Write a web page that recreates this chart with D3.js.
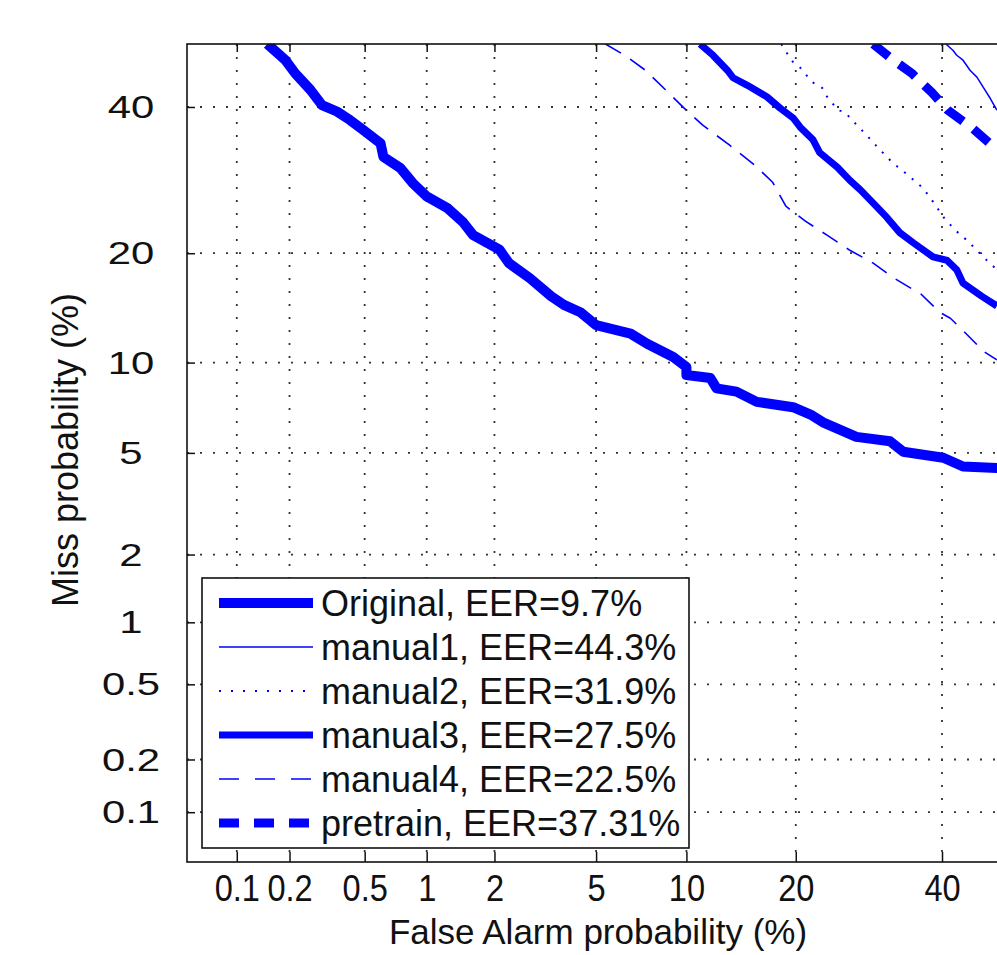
<!DOCTYPE html>
<html>
<head>
<meta charset="utf-8">
<script src="https://cdn.jsdelivr.net/npm/d3@7"></script>
<style>
  body { margin: 0; background: #fff; }
  svg text { font-family: "Liberation Sans", Arial, Helvetica, sans-serif; fill: #111; }
</style>
</head>
<body>
<svg id="chart" width="997" height="955"></svg>
<script>
// tick values (percent)
var faTicks = [0.1, 0.2, 0.5, 1, 2, 5, 10, 20, 40];
var missTicks = [0.1, 0.2, 0.5, 1, 2, 5, 10, 20, 40];

// DET curves (false alarm %, miss %)
var originalFA = [0.15, 0.177, 0.19, 0.215, 0.26, 0.30, 0.36, 0.42, 0.49, 0.60, 0.62, 0.75, 0.86, 1.0, 1.24, 1.46, 1.62, 2.1, 2.3, 2.8, 3.4, 3.8, 4.4, 5.0, 6.6, 7.5, 9.1, 10.0, 10.0, 11.8, 12.3, 14.0, 15.9, 19.7, 21.7, 23.2, 27.5, 32.2, 34.1, 40.2, 43.3, 48.7, 50];
var originalMiss = [50, 48.2, 47.4, 45.3, 42.7, 40.3, 39.3, 38.0, 36.5, 34.5, 32.5, 30.9, 28.8, 27.0, 25.5, 23.7, 22.1, 20.4, 18.9, 17.3, 15.5, 14.7, 14.0, 12.9, 12.2, 11.4, 10.4, 9.7, 9.15, 8.95, 8.3, 8.1, 7.5, 7.2, 6.8, 6.4, 5.7, 5.5, 5.05, 4.8, 4.46, 4.4, 4.4];

var manual1FA = [40.6, 41.7, 42.3, 43.3, 44.4, 45.5, 46.5, 47.6, 48.7];
var manual1Miss = [50, 49.0, 48.2, 47.4, 45.8, 44.7, 43.1, 41.4, 39.5];

var manual2FA = [18.4, 19.0, 19.7, 20.5, 21.9, 23.1, 23.7, 25.1, 26.0, 26.9, 28.7, 30.5, 32.5, 34.8, 37.1, 38.6, 40.5, 42.5, 43.9, 47.1, 48.7];
var manual2Miss = [50, 48.6, 47.1, 46.2, 43.9, 43.0, 41.6, 39.5, 39.2, 38.0, 35.9, 33.8, 31.7, 29.9, 28.1, 26.3, 24.0, 22.4, 21.5, 19.2, 18.2];

var manual3FA = [11.0, 12.0, 13.2, 13.7, 15.0, 16.9, 18.3, 19.7, 20.5, 22.0, 22.8, 25.0, 26.6, 28.0, 29.8, 31.7, 33.6, 35.6, 38.6, 40.8, 42.3, 43.3, 46.3, 48.7];
var manual3Miss = [50, 48.2, 45.8, 44.6, 43.4, 41.6, 39.8, 38.3, 36.9, 35.0, 33.1, 31.0, 29.2, 27.9, 26.1, 24.3, 22.4, 21.2, 19.6, 19.2, 18.2, 16.8, 15.5, 14.6];

var manual4FA = [5.4, 6.3, 7.4, 8.6, 9.8, 11.2, 13.4, 15.7, 17.5, 18.9, 21.1, 23.7, 26.5, 29.8, 32.8, 36.8, 39.7, 41.3, 43.4, 46.6, 48.7];
var manual4Miss = [50, 48.2, 45.8, 42.7, 39.9, 37.2, 34.2, 31.3, 28.9, 25.7, 23.8, 22.1, 20.4, 18.9, 17.3, 15.7, 14.0, 13.5, 12.4, 10.8, 10.2];

var pretrainFA = [29.8, 32.2, 35.4, 38.4, 40.9, 44.7, 47.9, 48.7];
var pretrainMiss = [50, 47.8, 45.3, 42.3, 39.5, 36.8, 34.2, 33.6];

var seriesNames = ["Original, EER=9.7%", "manual1, EER=44.3%", "manual2, EER=31.9%", "manual3, EER=27.5%", "manual4, EER=22.5%", "pretrain, EER=37.31%"];

// inverse normal cdf (Acklam)
function probit(p) {
	var a = [-3.969683028665376e+01, 2.209460984245205e+02, -2.759285104469687e+02, 1.383577518672690e+02, -3.066479806614716e+01, 2.506628277459239e+00];
	var b = [-5.447609879822406e+01, 1.615858368580409e+02, -1.556989798598866e+02, 6.680131188771972e+01, -1.328068155288572e+01];
	var c = [-7.784894002430293e-03, -3.223964580411365e-01, -2.400758277161838e+00, -2.549732539343734e+00, 4.374664141464968e+00, 2.938163982698783e+00];
	var d = [7.784695709041462e-03, 3.224671290700398e-01, 2.445134137142996e+00, 3.754408661907416e+00];
	var pl = 0.02425, q, r;
	if (p < pl) {
		q = Math.sqrt(-2 * Math.log(p));
		return (((((c[0]*q+c[1])*q+c[2])*q+c[3])*q+c[4])*q+c[5]) / ((((d[0]*q+d[1])*q+d[2])*q+d[3])*q+1);
	}
	if (p <= 1 - pl) {
		q = p - 0.5; r = q * q;
		return (((((a[0]*r+a[1])*r+a[2])*r+a[3])*r+a[4])*r+a[5])*q / (((((b[0]*r+b[1])*r+b[2])*r+b[3])*r+b[4])*r+1);
	}
	q = Math.sqrt(-2 * Math.log(1 - p));
	return -(((((c[0]*q+c[1])*q+c[2])*q+c[3])*q+c[4])*q+c[5]) / ((((d[0]*q+d[1])*q+d[2])*q+d[3])*q+1);
}
function pz(v) { return probit(v / 100); }

var plotLeft = 187, plotTop = 44, side = 818;
var svg = d3.select("#chart");

// axes run from 0.05% to 50% on a normal deviate scale
var x = d3.scaleLinear().domain([pz(0.05), pz(50)]).range([plotLeft, plotLeft + side]);
var y = d3.scaleLinear().domain([pz(0.05), pz(50)]).range([plotTop + side, plotTop]);

svg.append("defs").append("clipPath").attr("id", "plotclip")
	.append("rect").attr("x", plotLeft).attr("y", plotTop).attr("width", side).attr("height", side);

// dotted grid
var grid = svg.append("g")
	.attr("stroke", "#333")
	.attr("stroke-width", 1.8)
	.attr("stroke-dasharray", "2,11");
grid.selectAll(".vg").data(faTicks).enter().append("line")
	.attr("x1", function(d){ return x(pz(d)); })
	.attr("x2", function(d){ return x(pz(d)); })
	.attr("y1", plotTop).attr("y2", plotTop + side);
grid.selectAll(".hg").data(missTicks).enter().append("line")
	.attr("y1", function(d){ return y(pz(d)); })
	.attr("y2", function(d){ return y(pz(d)); })
	.attr("x1", plotLeft).attr("x2", plotLeft + side);

// curves
var blue = "#0000ff";
var styles = [
	{fa: originalFA, miss: originalMiss, w: 10, dash: null},
	{fa: manual1FA, miss: manual1Miss, w: 1.5, dash: null},
	{fa: manual2FA, miss: manual2Miss, w: 2, dash: "2,8"},
	{fa: manual3FA, miss: manual3Miss, w: 7, dash: null},
	{fa: manual4FA, miss: manual4Miss, w: 1.6, dash: "18,11"},
	{fa: pretrainFA, miss: pretrainMiss, w: 9, dash: "20,13"}
];
var line = d3.line()
	.x(function(d){ return x(pz(d[0])); })
	.y(function(d){ return y(pz(d[1])); });

var curves = svg.append("g").attr("clip-path", "url(#plotclip)");
styles.forEach(function(s){
	var pts = s.fa.map(function(f, i){ return [f, s.miss[i]]; });
	curves.append("path")
		.datum(pts)
		.attr("d", line)
		.attr("fill", "none")
		.attr("stroke", blue)
		.attr("stroke-width", s.w)
		.attr("stroke-linejoin", "round")
		.attr("stroke-dasharray", s.dash);
});

// axes with inward ticks
var xAxis = svg.append("g")
	.attr("transform", "translate(0," + (plotTop + side) + ")")
	.call(d3.axisBottom(x).tickValues(faTicks.map(pz)).tickSizeInner(-10).tickSizeOuter(0)
		.tickFormat(function(d, i){ return String(faTicks[i]); }));
xAxis.select(".domain").remove();
xAxis.selectAll("line").attr("stroke", "#111").attr("stroke-width", 1.5);
xAxis.selectAll("text")
	.attr("y", 0).attr("dy", null)
	.attr("fill", "#111")
	.attr("transform", "translate(0,26) scale(0.88,1)")
	.attr("dominant-baseline", "central")
	.style("font-size", "37px");

var topAxis = svg.append("g")
	.attr("transform", "translate(0," + plotTop + ")")
	.call(d3.axisTop(x).tickValues(faTicks.map(pz)).tickSizeInner(-8).tickSizeOuter(0).tickFormat(""));
topAxis.select(".domain").remove();
topAxis.selectAll("line").attr("stroke", "#111").attr("stroke-width", 1.5);

var yAxis = svg.append("g")
	.attr("transform", "translate(" + plotLeft + ",0)")
	.call(d3.axisLeft(y).tickValues(missTicks.map(pz)).tickSizeInner(-8).tickSizeOuter(0)
		.tickFormat(function(d, i){ return String(missTicks[i]); }));
yAxis.select(".domain").remove();
yAxis.selectAll("line").attr("stroke", "#111").attr("stroke-width", 1.5);
yAxis.selectAll("text")
	.attr("x", 0).attr("dy", null)
	.attr("fill", "#111")
	.attr("text-anchor", "middle")
	.attr("dominant-baseline", "central")
	.attr("transform", "translate(-56,0) scale(1.35,1)")
	.style("font-size", "31px");

// frame
svg.append("rect")
	.attr("x", plotLeft).attr("y", plotTop).attr("width", side).attr("height", side)
	.attr("fill", "none").attr("stroke", "#111").attr("stroke-width", 1.6);

// axis titles
svg.append("text")
	.attr("x", 598).attr("y", 944)
	.attr("text-anchor", "middle")
	.style("font-size", "35px")
	.text("False Alarm probability (%)");
svg.append("text")
	.attr("transform", "translate(78,450) rotate(-90)")
	.attr("text-anchor", "middle")
	.style("font-size", "36px")
	.text("Miss probability (%)");

// legend
var lg = svg.append("g");
lg.append("rect")
	.attr("x", 202).attr("y", 578).attr("width", 487).attr("height", 270)
	.attr("fill", "#fff").attr("stroke", "#111").attr("stroke-width", 1.6);
var legendDash = [null, null, "2,10", null, "20,16", "20,15"];
seriesNames.forEach(function(name, i){
	var ly = 603 + i * 44;
	lg.append("line")
		.attr("x1", 219).attr("x2", 313)
		.attr("y1", ly).attr("y2", ly)
		.attr("stroke", blue)
		.attr("stroke-width", styles[i].w)
		.attr("stroke-dasharray", legendDash[i]);
	lg.append("text")
		.attr("x", 321).attr("y", ly)
		.attr("dominant-baseline", "central")
		.style("font-size", "36px")
		.text(name);
});
</script>
</body>
</html>
